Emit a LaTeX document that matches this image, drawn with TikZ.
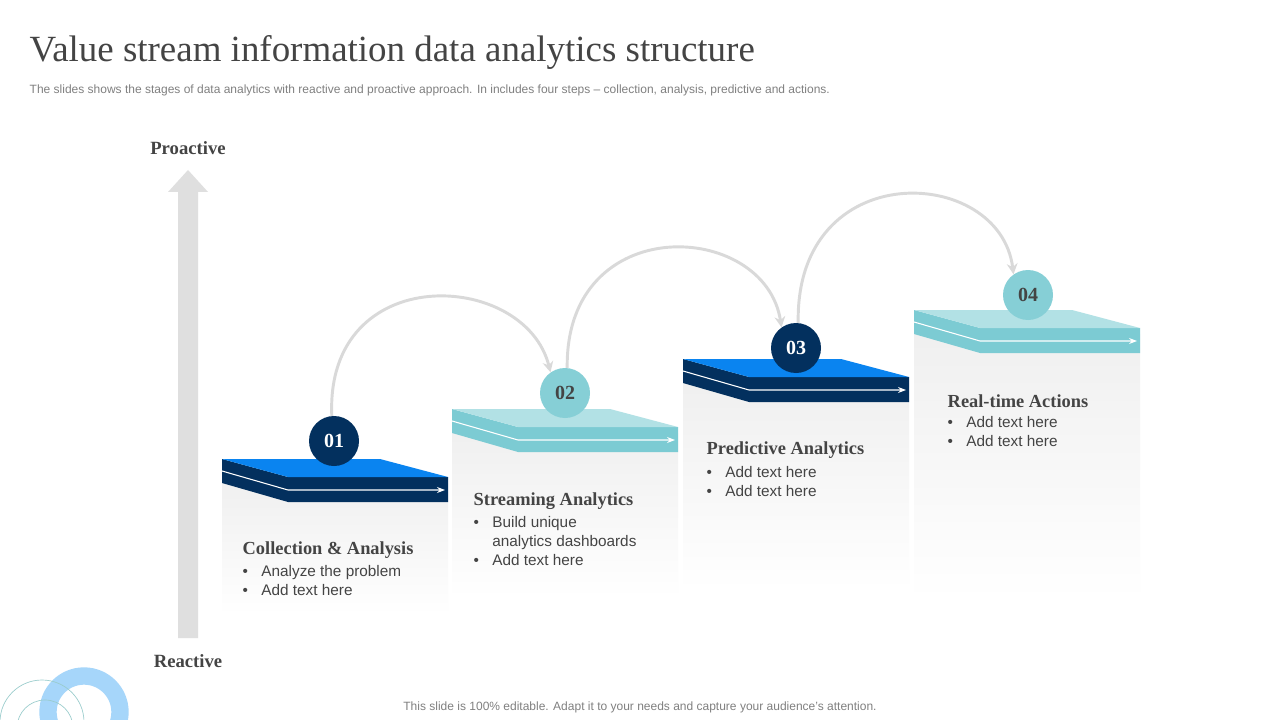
\documentclass[tikz,border=0pt]{standalone}
\usepackage{fontspec}
\setmainfont{Liberation Serif}
\setsansfont{Liberation Sans}
\usetikzlibrary{arrows.meta}
\definecolor{navy}{HTML}{03305E}
\definecolor{brightblue}{HTML}{0A84F0}
\definecolor{tealdark}{HTML}{7CCBD3}
\definecolor{teallight}{HTML}{B2E1E5}
\definecolor{numteal}{HTML}{86CFD6}
\definecolor{textgray}{HTML}{444444}
\definecolor{ringblue}{HTML}{A6D6FA}
\tikzset{
  numdot/.style={circle, minimum size=37.5pt, inner sep=0pt, font=\bfseries\fontsize{15}{15}\selectfont},
  head/.style={anchor=west, font=\bfseries\fontsize{13.8}{15}\selectfont, text=textgray},
  items/.style={anchor=north west, font=\sffamily\fontsize{11.5}{14.2}\selectfont, text=textgray, align=left},
  hop/.style={draw=gray!30, line width=2.2pt, -{Stealth[length=8pt,width=8pt]}},
}
% one step: #1 x, #2 top y, #3 top colour, #4 band colour, #5 body bottom
\newcommand{\stepblock}[5]{
  \shade[top color=gray!12, bottom color=white] (#1,#2+24) rectangle (#1+226,#5);
  \fill[#4] (#1,#2) -- (#1+66,#2+18) -- (#1+226,#2+18) -- (#1+226,#2+43) -- (#1+66,#2+43) -- (#1,#2+24) -- cycle;
  \fill[#3] (#1,#2) -- (#1+158,#2) -- (#1+226,#2+18) -- (#1+66,#2+18) -- cycle;
  \draw[white, line width=0.8pt, -{Stealth[length=6pt]}] (#1,#2+12) -- (#1+66,#2+31) -- (#1+223,#2+31);
}
\begin{document}
\begin{tikzpicture}[x=0.75pt, y=-0.75pt]
  \useasboundingbox (0,0) rectangle (1280,720);
  \fill[white] (0,0) rectangle (1280,720);

  \node[anchor=west, font=\fontsize{27.7}{30}\selectfont, text=textgray] (title) at (25,52) {Value stream information data analytics structure};
  \node[anchor=west, font=\sffamily\fontsize{9}{10}\selectfont, text=gray] (sub) at (25,90) {The slides shows the stages of data analytics with reactive and proactive approach. In includes four steps -- collection, analysis, predictive and actions.};

  % vertical arrow
  \fill[gray!25] (178,638) -- (178,192) -- (168,192) -- (188,170) -- (208,192) -- (198,192) -- (198,638) -- cycle;
  \node[font=\bfseries\fontsize{14}{15}\selectfont, text=textgray] (pro) at (188,148) {Proactive};
  \node[font=\bfseries\fontsize{14}{15}\selectfont, text=textgray] (rea) at (188,661) {Reactive};

  % steps
  \stepblock{222}{459}{brightblue}{navy}{615}
  \stepblock{452}{409}{teallight}{tealdark}{598}
  \stepblock{683}{359}{brightblue}{navy}{590}
  \stepblock{914}{310}{teallight}{tealdark}{600}

  \node[numdot, fill=navy, text=white] (n1) at (334,441) {01};
  \node[numdot, fill=numteal, text=textgray] (n2) at (565,393) {02};
  \node[numdot, fill=navy, text=white] (n3) at (796,348) {03};
  \node[numdot, fill=numteal, text=textgray] (n4) at (1028,295) {04};

  \draw[hop] (n1.95) .. controls (325,260) and (525,270) .. (n2.125);
  \draw[hop] (n2.85) .. controls (565,210) and (765,220) .. (n3.125);
  \draw[hop] (n3.85) .. controls (795,155) and (1000,165) .. (n4.125);

  \node[head] (h1) at (238,550) {Collection \& Analysis};
  \node[items] (t1) at (238,561) {\textbullet\hspace{10pt}Analyze the problem\\\textbullet\hspace{10pt}Add text here};
  \node[head] (h2) at (469,501) {Streaming Analytics};
  \node[items] (t2) at (469,512) {\textbullet\hspace{10pt}Build unique\\\phantom{\textbullet}\hspace{10pt}analytics dashboards\\\textbullet\hspace{10pt}Add text here};
  \node[head] (h3) at (702,450) {Predictive Analytics};
  \node[items] (t3) at (702,462) {\textbullet\hspace{10pt}Add text here\\\textbullet\hspace{10pt}Add text here};
  \node[head] (h4) at (943,401) {Real-time Actions};
  \node[items] (t4) at (943,412) {\textbullet\hspace{10pt}Add text here\\\textbullet\hspace{10pt}Add text here};

  \node[font=\sffamily\fontsize{9}{10}\selectfont, text=gray] (foot) at (640,707) {This slide is 100\% editable. Adapt it to your needs and capture your audience's attention.};

  % decorative rings
  \draw[ringblue, line width=13pt] (84,712) circle (36);
  \draw[teal!40, line width=0.5pt] (42,722) circle (42);
  \draw[teal!40, line width=0.5pt] (45,728) circle (28);
\end{tikzpicture}
\end{document}
